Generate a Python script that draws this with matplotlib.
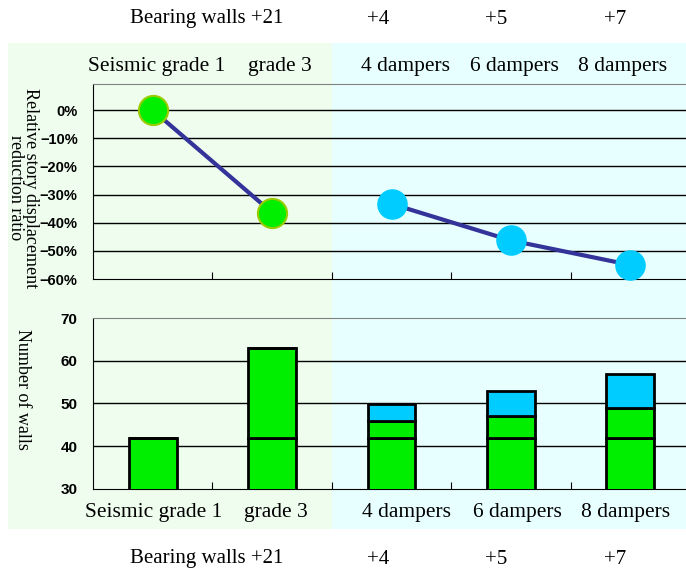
""" Seismic grade vs dampers: displacement ratio and number of walls """

from matplotlib import pyplot as plt
from matplotlib.patches import Rectangle
import numpy as np

categories = ["Seismic grade 1", "grade 3", "4 dampers", "6 dampers", "8 dampers"]
extra_labels = ["Bearing walls +21", "+4", "+5", "+7"]

# relative story displacement reduction ratio (%)
grade_ratio = [0, -36.4]
damper_ratio = [-33.3, -46.3, -55.0]

# number of walls, stacked
base_walls = [42, 42, 42, 42, 42]
added_walls = [0, 21, 4, 5, 7]
damper_walls = [0, 0, 4, 6, 8]

W, H = 686, 573
fig = plt.figure(figsize=(W / 100, H / 100), dpi=100)


def fx(px):
    return px / W


def fy(py):
    return 1 - py / H


# background panels
fig.patches.append(Rectangle((fx(8), fy(529)), fx(332) - fx(8), fy(43) - fy(529),
                             transform=fig.transFigure, facecolor="#eefdee",
                             edgecolor="none", zorder=-5))
fig.patches.append(Rectangle((fx(332), fy(529)), fx(686) - fx(332), fy(43) - fy(529),
                             transform=fig.transFigure, facecolor="#e8ffff",
                             edgecolor="none", zorder=-5))

serif = "Liberation Serif"
x = np.arange(len(categories))
left, right = fx(93), fx(690)

# --- top: displacement ratio
ax1 = fig.add_axes([left, fy(279), right - left, fy(84) - fy(279)])
ax1.set_facecolor("none")
ax1.plot(x[:2], grade_ratio, color="#333399", lw=3, marker="o", ms=21,
         mfc="#00ee00", mec="#99cc00", mew=1.5, zorder=3, clip_on=False)
ax1.plot(x[2:], damper_ratio, color="#333399", lw=3, marker="o", ms=21,
         mfc="#00ccff", mec="#00ccff", zorder=3, clip_on=False)
ax1.set_xlim(-0.5, 4.5)
ax1.set_ylim(-60, 9.3)
ax1.set_yticks(np.arange(-60, 1, 10))
ax1.set_yticklabels(["\u221260%", "\u221250%", "\u221240%", "\u221230%", "\u221220%", "\u221210%", "0%"])
for v in np.arange(-50, 1, 10):
    ax1.axhline(v, color="black", lw=1, zorder=1)
ax1.set_xticks(np.arange(0.5, 4.5, 1))
ax1.set_xticklabels([])
ax1.tick_params(axis="x", direction="in", length=5, color="black")
ax1.tick_params(axis="y", length=0, pad=11)
ax1.spines["top"].set_color("gray")
ax1.spines["right"].set_visible(False)
for lab in ax1.get_yticklabels():
    lab.set_fontfamily("Liberation Sans")
    lab.set_fontweight("bold")
    lab.set_fontsize(10.5)
fig.text(fx(23), fy(188), "Relative story displacement\nreduction ratio", rotation=-90,
         ha="center", va="center", fontsize=13, family=serif, linespacing=0.85)

# --- bottom: number of walls
ax2 = fig.add_axes([left, fy(489), right - left, fy(318) - fy(489)])
ax2.set_facecolor("none")
bw = 0.4
kw = dict(width=bw, edgecolor="black", linewidth=2, zorder=3)
ax2.bar(x, base_walls, color="#00ee00", **kw)
ax2.bar(x, added_walls, bottom=base_walls, color="#00ee00", **kw)
ax2.bar(x, damper_walls, bottom=np.add(base_walls, added_walls), color="#00ccff", **kw)
ax2.set_xlim(-0.5, 4.5)
ax2.set_ylim(30, 70)
ax2.set_yticks([30, 40, 50, 60, 70])
for v in [40, 50, 60]:
    ax2.axhline(v, color="black", lw=1, zorder=1)
ax2.set_xticks(np.arange(0.5, 4.5, 1))
ax2.set_xticklabels([])
ax2.tick_params(axis="x", direction="in", length=5, color="black")
ax2.tick_params(axis="y", length=0, pad=11)
ax2.spines["top"].set_color("gray")
ax2.spines["right"].set_visible(False)
for lab in ax2.get_yticklabels():
    lab.set_fontfamily("Liberation Sans")
    lab.set_fontweight("bold")
    lab.set_fontsize(11)
fig.text(fx(22), fy(389), "Number of walls", rotation=-90,
         ha="center", va="center", fontsize=13, family=serif)

# category labels above and below
top_cat_x = [157, 280, 405, 514, 623]
bot_cat_x = [154, 276, 406, 517, 626]
for name, tx, bx in zip(categories, top_cat_x, bot_cat_x):
    fig.text(fx(tx), fy(67), name, ha="center", va="center", fontsize=15.5, family=serif)
    fig.text(fx(bx), fy(512), name, ha="center", va="center", fontsize=15.5, family=serif)

extra_x = [207, 378, 496, 615]
for name, ex in zip(extra_labels, extra_x):
    fig.text(fx(ex), fy(19), name, ha="center", va="center", fontsize=15, family=serif)
    fig.text(fx(ex), fy(559), name, ha="center", va="center", fontsize=15, family=serif)

fig.savefig("out.png", dpi=100)
